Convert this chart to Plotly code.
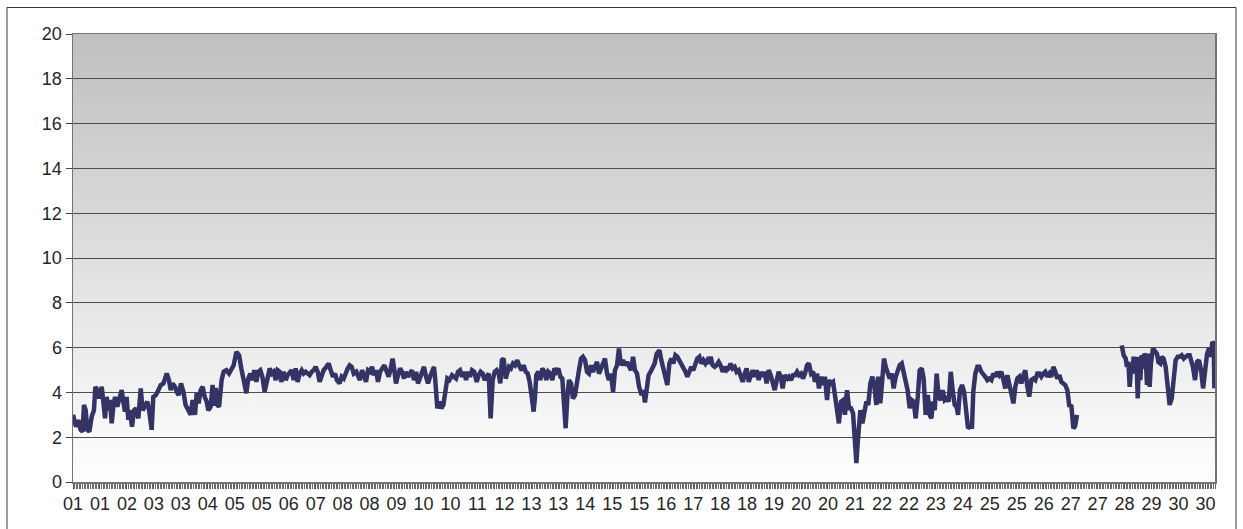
import base64
from datetime import datetime, timedelta
import plotly.graph_objects as go

# ---- data (hours since start of month, value) ----
hours = [
    0, 1.9, 3.4, 4.8, 6.1, 6.9, 8.0, 9.0, 10.3, 11.8, 13.2, 14.1, 15.3, 16.6, 18.1, 19.1, 20.2, 21.2, 22.3, 23.3,
    24.4, 25.4, 26.5, 27.9, 29.6, 30.7, 31.7, 32.8, 33.8, 34.9, 35.9, 37.2, 38.5, 39.7, 41.2, 42.7, 43.9, 45.4, 46.9, 48.1,
    49.6, 50.6, 52.3, 53.8, 55.3, 57.0, 59.1, 60.5, 61.6, 62.8, 64.3, 65.4, 66.6, 68.1, 69.6, 71.0, 72.7, 74.2, 75.4, 76.9,
    78.0, 79.2, 80.5, 81.8, 83.0, 84.3, 85.3, 86.8, 88.0, 89.0, 90.0, 91.0, 92.1, 92.9, 93.7,
    95.0, 96.7, 98.4, 99.8, 101.3, 103.0, 104.7, 106.1, 107.6, 109.3, 110.5, 111.8, 113.1, 114.3, 115.6, 116.8, 118.1, 119.4,
    120.8, 122.3, 124.0, 125.3, 126.5, 127.8, 129.0, 130.3, 131.3, 132.8, 134.1, 135.3, 136.6, 137.9, 139.1, 140.4, 141.6,
    142.9, 144.2, 145.4, 146.7, 148.0, 149.2, 150.5, 151.7, 153.0, 154.3, 155.5, 156.8, 158.0, 159.7, 161.2, 162.5, 163.9,
    165.2, 166.4, 168.1, 169.4, 170.7, 171.9, 173.2, 174.4, 175.7, 177.0, 178.6,
    180.9, 182.2, 183.5, 184.7, 186.0, 187.3, 188.5, 189.8, 191.0, 192.3, 193.6, 194.8, 196.3, 197.8, 199.0, 200.3, 201.5,
    202.6, 203.6, 204.9, 206.2, 207.4, 208.7, 209.9, 211.2, 212.5, 213.7, 215.0, 216.3, 217.5, 218.8, 220.0, 221.3, 222.6,
    223.8, 225.1, 226.3, 227.6, 228.4, 229.7, 231.0, 232.2, 233.5, 234.7, 236.0, 237.3, 239.0, 240.2, 241.5, 242.7, 244.0,
    245.3, 246.5, 247.8, 249.0, 250.3, 251.6, 253.0, 254.5, 255.8, 257.0, 258.3, 259.5, 260.8, 262.1, 263.3, 264.6, 265.9,
    267.1, 268.4, 269.4, 270.4, 271.5, 272.8,
    273.8, 274.9, 276.1, 277.4, 278.7, 280.1, 281.6, 282.9, 284.1, 285.4, 286.7, 287.9, 289.2, 290.4, 291.3, 292.1, 293.4,
    294.6, 295.9, 297.2, 298.4, 299.7, 300.9, 302.2, 303.5, 304.7, 306.0, 307.3, 308.5, 309.6, 310.6, 311.7, 312.7, 314.0,
    315.2, 316.5, 317.8, 319.0, 320.3, 321.5, 322.8, 324.1, 325.3, 326.6, 327.8, 329.1, 330.4, 331.6, 332.9, 334.2, 335.4,
    336.7, 337.9, 339.2, 340.5, 341.7, 343.0, 344.2, 345.5, 346.8, 348.0, 349.3, 350.5, 351.8, 353.1, 354.3, 355.6, 356.9,
    358.5, 359.6, 360.6, 361.9,
    362.9, 364.2, 365.5, 366.7, 368.0, 369.7, 370.9, 372.2, 373.5, 374.7, 376.0, 377.2, 378.5, 379.8, 381.0, 382.3, 383.5,
    384.8, 386.1, 387.3, 388.6, 389.8, 391.1, 392.4, 393.6, 394.9, 396.1, 397.4, 398.7, 399.9, 401.2, 402.0, 403.3, 404.6,
    405.8, 407.1, 408.3, 409.6, 410.9, 412.1, 413.4, 414.6, 415.9, 417.2, 418.4, 419.7, 420.9, 422.2, 423.5, 424.7, 426.0,
    427.3, 428.5, 429.8, 431.0, 432.3, 433.6, 434.8, 436.1, 437.3, 438.6, 439.9, 441.1, 442.4, 443.7, 444.9, 446.2, 447.4,
    448.7, 450.4,
    451.4, 452.7, 453.9, 455.2, 456.5, 457.7, 459.0, 460.2, 461.5, 462.8, 464.0, 465.3, 466.6, 467.8, 469.1, 470.3, 471.6,
    472.9, 474.1, 475.4, 476.6, 477.9, 479.2, 480.4, 481.7, 482.9, 484.2, 485.5, 486.7, 488.0, 489.3, 490.5, 491.8, 493.0,
    493.9, 494.7, 495.6, 496.4, 497.7, 498.9, 500.2, 501.4, 502.7, 504.0, 505.2, 506.5, 507.7, 509.0, 510.3, 511.3, 512.4,
    513.6, 514.9, 516.2, 517.4, 518.7, 519.9, 521.2, 522.5, 523.7, 525.0, 526.2, 527.5, 528.8, 530.0, 531.3, 532.6, 533.8,
    535.1, 536.3, 537.6, 538.9, 540.1,
    541.2, 542.2, 543.3, 544.5, 545.8, 547.1, 548.3, 549.6, 550.8, 552.1, 553.4, 554.6, 555.9, 557.1, 558.0, 559.2, 560.5,
    561.8, 563.0, 564.3, 565.5, 566.8, 567.6, 568.9, 570.2, 571.4, 572.7, 573.9, 575.2, 576.5, 577.7, 579.0, 580.2, 581.5,
    582.8, 584.0, 585.3, 586.6, 587.8, 589.1, 590.3, 591.6, 592.9, 594.1, 595.4, 596.6, 597.9, 599.2, 600.4, 601.7, 602.9,
    604.2, 605.5, 606.7, 608.0, 609.3, 610.5, 611.8, 613.0, 614.3, 615.6, 616.8, 618.1, 619.3, 620.6, 621.9, 623.1, 624.4,
    625.6, 626.9, 628.2, 629.4, 630.7, 631.8, 633.0,
    647.0,
    661.2, 662.4, 663.7, 664.5, 665.4, 666.2, 667.1, 667.9, 668.7, 669.6, 670.4, 671.3, 672.1, 672.9, 673.8, 674.6, 675.4,
    676.3, 677.1, 678.0, 678.8, 679.6, 680.9, 682.2, 683.4, 684.3, 685.5, 686.4, 687.6, 688.9, 690.2, 691.4, 692.7, 693.9,
    695.2, 696.5, 697.7, 699.0, 700.3, 701.5, 702.8, 704.0, 704.9, 706.1, 707.4, 708.7, 709.9, 711.2, 712.5, 713.7, 715.0,
    716.2, 717.5, 718.3, 719.2, 719.6,
]
values = [
    3.0, 2.47, 2.77, 2.33, 2.25, 3.44, 3.2, 2.33, 2.25, 2.92, 3.2, 4.25, 4.1, 3.73, 4.25, 3.73, 2.84, 3.8, 3.2, 3.66,
    2.62, 3.36, 3.8, 3.36, 3.8, 4.1, 3.59, 3.14, 3.8, 2.77, 3.2, 2.47, 3.2, 3.29, 2.84, 4.18, 3.2, 3.44, 3.59, 3.14,
    2.33, 3.8, 3.88, 4.1, 4.33, 4.4, 4.84, 4.55, 4.1, 4.4, 4.25, 4.03, 3.88, 4.4, 4.03, 3.44, 3.14, 3.0, 3.66, 3.0,
    3.96, 3.51, 4.1, 4.25, 3.8, 3.59, 3.2, 3.36, 4.33, 3.4, 4.2, 3.44, 3.36, 3.96, 4.55,
    4.92, 4.99, 4.84, 4.99, 5.21, 5.81, 5.66, 5.07, 4.4, 3.96, 4.62, 4.84, 4.55, 4.99, 4.47, 4.92, 4.99, 4.7,
    4.03, 4.62, 5.07, 4.84, 4.92, 4.55, 4.99, 4.92, 4.47, 4.92, 4.55, 4.77, 4.92, 4.99, 4.55, 5.07, 4.47,
    4.84, 4.99, 4.84, 4.92, 4.84, 4.77, 4.92, 4.99, 5.14, 4.92, 4.47, 4.84, 4.99, 5.14, 5.29, 4.99, 4.7,
    4.84, 4.55, 4.4, 4.7, 4.62, 4.92, 5.07, 5.21, 5.14, 4.84, 4.92,
    4.55, 4.99, 4.77, 4.47, 4.99, 4.92, 5.14, 4.77, 4.99, 4.47, 4.92, 5.07, 5.21, 4.92, 4.7, 5.07, 5.51,
    4.99, 4.4, 4.77, 5.07, 4.92, 4.62, 4.92, 4.7, 4.84, 4.99, 4.55, 4.92, 4.4, 4.7, 4.99, 5.14, 4.7,
    4.4, 4.7, 4.92, 5.14, 4.55, 3.29, 3.59, 3.29, 3.44, 4.18, 4.62, 4.55, 4.77, 4.7, 4.62, 4.92, 4.99,
    4.7, 4.92, 4.55, 4.92, 4.7, 4.99, 4.92, 4.47, 4.77, 4.92, 4.84, 4.55, 4.7, 4.84, 2.84, 4.55, 4.92,
    4.99, 4.84, 4.4, 5.44, 5.51, 4.62,
    4.92, 5.14, 5.07, 5.29, 5.21, 5.44, 5.14, 4.99, 5.21, 4.92, 4.84, 4.47, 3.81, 3.14, 3.81, 4.77, 4.92,
    4.55, 5.07, 4.92, 4.55, 4.92, 4.84, 4.55, 5.07, 4.92, 5.07, 4.7, 4.62, 3.21, 2.4, 3.81, 4.55, 4.4,
    3.73, 3.88, 4.33, 4.99, 5.51, 5.59, 5.44, 4.92, 4.84, 5.21, 4.92, 5.14, 5.36, 4.84, 5.07, 5.29, 5.51,
    4.84, 4.55, 4.84, 4.03, 4.99, 5.21, 5.96, 5.21, 5.44, 5.21, 5.36, 5.21, 4.99, 5.59, 4.99, 4.84, 4.25,
    3.88, 4.1, 3.55, 4.1,
    4.77, 4.92, 5.14, 5.29, 5.73, 5.88, 5.44, 4.99, 4.55, 4.33, 5.29, 5.51, 5.29, 5.66, 5.59, 5.44, 5.21,
    5.14, 4.92, 4.7, 4.99, 5.14, 4.99, 5.29, 5.51, 5.59, 5.29, 5.44, 5.29, 5.44, 5.29, 5.59, 5.21, 5.14,
    5.21, 5.36, 5.21, 4.92, 5.14, 4.99, 5.07, 5.29, 5.07, 5.14, 4.92, 4.99, 4.7, 4.47, 4.84, 5.07, 4.47,
    4.84, 4.99, 4.7, 4.99, 4.55, 4.92, 4.7, 4.92, 4.4, 4.99, 4.77, 4.47, 4.1, 4.55, 4.92, 4.7, 4.18,
    4.77, 4.62,
    4.7, 4.55, 4.77, 4.77, 4.92, 4.77, 4.84, 4.62, 4.84, 5.21, 5.29, 4.84, 4.92, 4.47, 4.84, 4.18, 4.7,
    4.33, 4.7, 3.66, 4.55, 4.4, 4.47, 3.81, 3.21, 2.62, 3.59, 3.66, 3.0, 4.1, 3.29, 3.29, 3.07, 2.03,
    0.84, 1.73, 2.92, 3.21, 2.62, 3.21, 3.59, 3.44, 4.4, 4.7, 4.33, 3.44, 4.7, 3.51, 4.4, 5.51, 5.14,
    4.92, 4.62, 4.84, 4.18, 4.7, 4.99, 5.21, 5.29, 4.84, 4.4, 4.1, 3.29, 3.66, 3.59, 2.84, 3.81, 4.99,
    5.07, 4.62, 3.0, 3.88, 3.0,
    2.84, 3.59, 3.21, 4.84, 3.81, 3.66, 4.1, 3.66, 3.73, 3.59, 4.92, 4.1, 3.44, 3.36, 3.0, 4.1, 4.33,
    4.03, 3.36, 2.4, 2.47, 2.47, 4.03, 4.84, 5.14, 5.14, 4.92, 4.84, 4.7, 4.55, 4.62, 4.55, 4.84, 4.7,
    4.92, 4.77, 4.92, 4.55, 4.18, 4.77, 4.33, 3.96, 3.51, 4.25, 4.62, 4.7, 4.4, 4.77, 4.99, 4.25, 3.81,
    4.55, 4.62, 4.55, 4.84, 4.84, 4.7, 4.84, 4.92, 4.7, 4.84, 4.7, 5.14, 4.92, 4.62, 4.77, 4.47, 4.4,
    4.33, 4.1, 3.36, 3.44, 2.4, 2.5, 3.0,
    None,
    6.1, 5.66, 5.51, 5.14, 5.36, 4.25, 5.07, 4.84, 5.59, 4.99, 5.59, 3.73, 5.59, 4.55, 5.66, 5.07, 5.73,
    5.59, 4.33, 5.73, 4.25, 5.29, 5.96, 5.81, 5.73, 5.36, 5.29, 5.59, 5.51, 5.14, 4.25, 3.44, 3.73, 4.55,
    5.44, 5.59, 5.59, 5.66, 5.51, 5.59, 5.66, 5.66, 5.44, 5.14, 4.55, 5.36, 5.44, 4.99, 4.18, 5.14, 5.73,
    5.96, 5.59, 6.25, 6.18, 4.18,
]
y_tickvals = [0, 2, 4, 6, 8, 10, 12, 14, 16, 18, 20]
month_start = "2010-06-01 00:00"
month_end = "2010-07-01 00:00"
label_every_hours = 17

base = datetime(2010, 6, 1)
x_dates = [base + timedelta(hours=h) for h in hours]

# gradient background for plot area (grey at top -> white at bottom)
svg = ('<svg xmlns="http://www.w3.org/2000/svg" width="100" height="100" viewBox="0 0 100 100" '
       'preserveAspectRatio="none"><defs><linearGradient id="g" x1="0" y1="0" x2="0" y2="1">'
       '<stop offset="0" stop-color="#bfbfbf"/><stop offset="1" stop-color="#ffffff"/>'
       '</linearGradient></defs><rect x="0" y="0" width="100" height="100" fill="url(#g)"/></svg>')
bg_uri = "data:image/svg+xml;base64," + base64.b64encode(svg.encode()).decode()

fig = go.Figure()
fig.add_trace(go.Scatter(
    x=x_dates, y=values, mode="lines",
    line=dict(color="#333366", width=4.5),
    connectgaps=False, hoverinfo="skip",
))

W, H = 1243, 529
L, R, T, B = 73, 28, 34, 47
pw, ph = W - L - R, H - T - B

fig.update_layout(
    width=W, height=H,
    margin=dict(l=L, r=R, t=T, b=B, pad=0),
    paper_bgcolor="white",
    plot_bgcolor="rgba(0,0,0,0)",
    showlegend=False,
    hovermode=False,
    font=dict(family="Liberation Sans, Arial, sans-serif", size=18, color="#262626"),
    images=[dict(source=bg_uri, xref="paper", yref="paper", x=0, y=1, sizex=1, sizey=1,
                 xanchor="left", yanchor="top", sizing="stretch", layer="below")],
    shapes=[dict(type="rect", xref="paper", yref="paper",
                 x0=(7 - L) / pw, x1=(1236 - L) / pw, y0=-(545 - T - ph) / ph, y1=1 + (T - 7.5) / ph,
                 line=dict(color="#3a3a3a", width=1), fillcolor="rgba(0,0,0,0)", layer="below")],
)

fig.update_xaxes(
    type="date", range=[month_start, month_end],
    tick0=month_start, dtick=label_every_hours * 3600000, tickformat="%d",
    ticks="outside", ticklen=5, tickcolor="#555555",
    showgrid=False, zeroline=False,
    showline=True, linecolor="#7d7070", linewidth=1.5, mirror=True,
    minor=dict(dtick=3600000, ticks="outside", ticklen=5, tickcolor="#6a6a6a", tickwidth=1, showgrid=False),
)
fig.update_yaxes(
    range=[0, 20], tickvals=y_tickvals,
    ticks="outside", ticklen=6, tickcolor="#444444",
    showgrid=True, gridcolor="#4d4d4d", gridwidth=1,
    zeroline=False,
    showline=True, linecolor="#7d7070", linewidth=1.5, mirror=True,
)

fig.write_html(
    "out.html",
    config={"displayModeBar": False, "staticPlot": True},
    post_script="document.body.style.margin='0';document.body.style.overflow='hidden';",
)
